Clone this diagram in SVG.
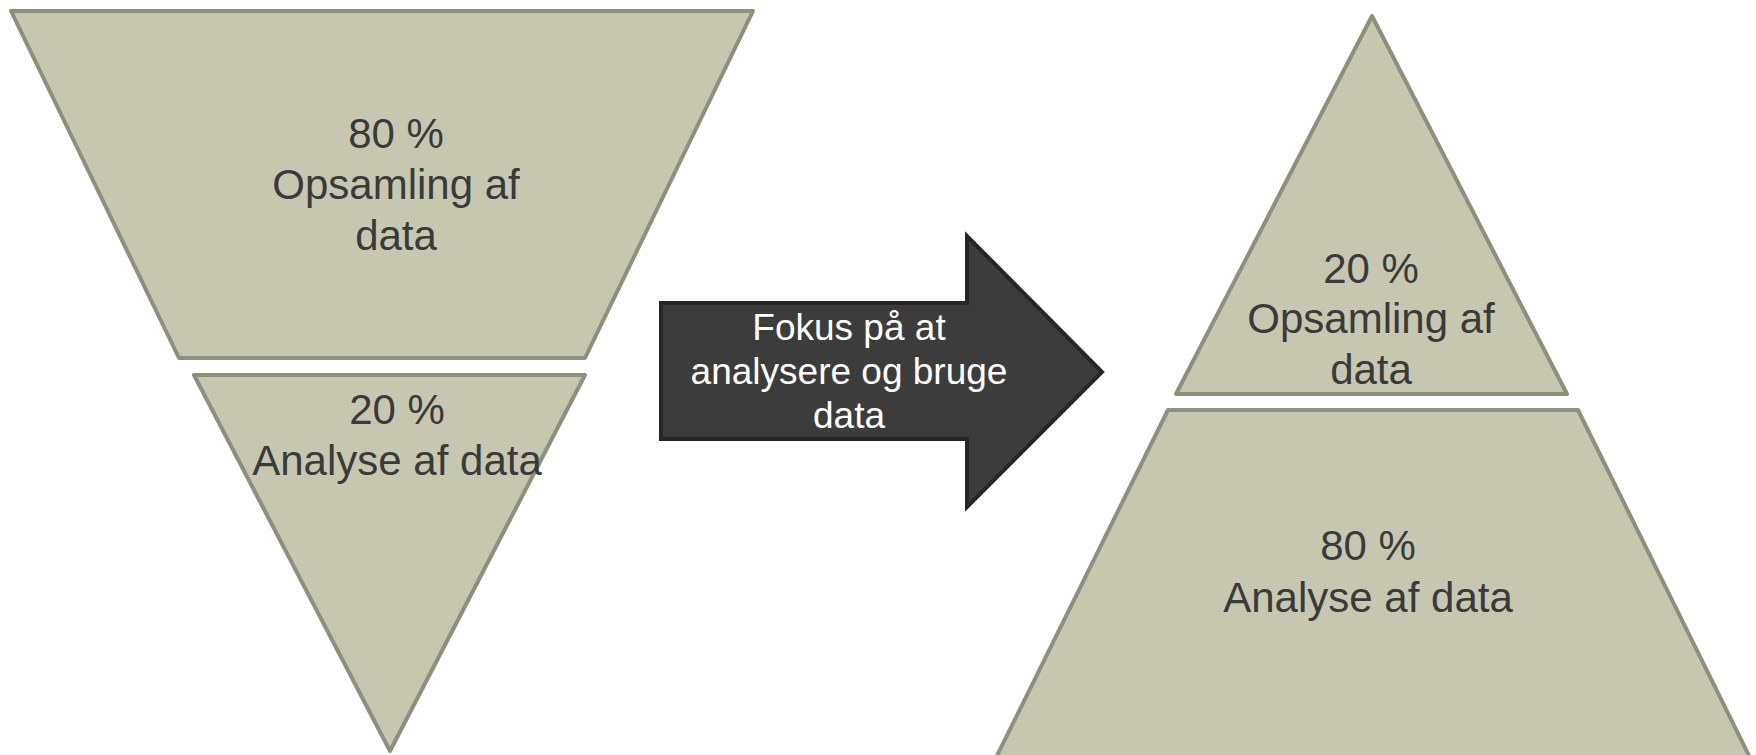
<svg xmlns="http://www.w3.org/2000/svg" width="1756" height="755" viewBox="0 0 1756 755">
<style>
.shape{fill:#c7c7b1;stroke:#8e8f7c;stroke-width:4;stroke-linejoin:round}
.lbl{font-family:"Liberation Sans",Arial,sans-serif;font-size:42px;fill:#3a3a3a;text-anchor:middle}
.arrow{fill:#3c3c3c;stroke:#262626;stroke-width:4;stroke-linejoin:miter}
.atxt{font-family:"Liberation Sans",Arial,sans-serif;font-size:37px;fill:#ffffff;text-anchor:middle}
</style>
<rect width="1756" height="755" fill="#ffffff"/>
<g id="left-top">
<polygon class="shape" points="11,11 753,11 585,358 179,358"/>
<text class="lbl" x="396" y="148">80 %</text>
<text class="lbl" x="396" y="199">Opsamling af</text>
<text class="lbl" x="396" y="250">data</text>
</g>
<g id="left-bottom">
<polygon class="shape" points="194,375 585,375 390,751"/>
<text class="lbl" x="397" y="424">20 %</text>
<text class="lbl" x="397" y="475">Analyse af data</text>
</g>
<g id="connectors">
<g id="arrow">
<polygon class="arrow" points="661,303 967,303 967,236 1102,372 967,507 967,439 661,439"/>
<text class="atxt" x="849" y="340">Fokus på at</text>
<text class="atxt" x="849" y="384">analysere og bruge</text>
<text class="atxt" x="849" y="428">data</text>
</g>
</g>
<g id="right-top">
<polygon class="shape" points="1372,16 1567,394 1176,394"/>
<text class="lbl" x="1371" y="283">20 %</text>
<text class="lbl" x="1371" y="333">Opsamling af</text>
<text class="lbl" x="1371" y="384">data</text>
</g>
<g id="right-bottom">
<polygon class="shape" points="1168,410 1578,410 1766,790 980,790"/>
<text class="lbl" x="1368" y="560">80 %</text>
<text class="lbl" x="1368" y="612">Analyse af data</text>
</g>
</svg>
